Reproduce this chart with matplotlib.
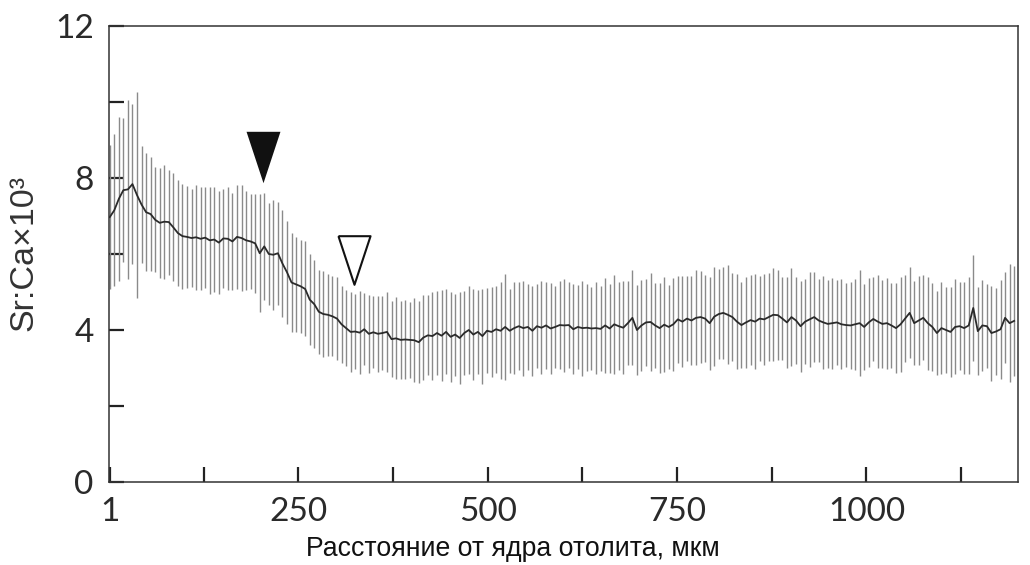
import numpy as np
import matplotlib
matplotlib.use('Agg')
import matplotlib.pyplot as plt

# distance from otolith core, um (sampling step 6 um)
distance = np.arange(1, 1200, 6)

sr_ca_mean = [
    6.97, 7.15, 7.45, 7.68, 7.70, 7.84, 7.55, 7.30, 7.10, 7.05,
    6.90, 6.82, 6.85, 6.84, 6.70, 6.55, 6.47, 6.45, 6.42, 6.44,
    6.40, 6.43, 6.36, 6.38, 6.30, 6.41, 6.40, 6.33, 6.45, 6.42,
    6.36, 6.33, 6.28, 6.02, 6.20, 6.00, 5.98, 6.02, 5.75, 5.52,
    5.25, 5.20, 5.15, 5.08, 4.80, 4.68, 4.48, 4.42, 4.40, 4.36,
    4.30, 4.15, 4.05, 3.95, 3.96, 3.93, 4.02, 3.90, 3.94, 3.90,
    3.92, 3.95, 3.76, 3.78, 3.74, 3.75, 3.74, 3.73, 3.68, 3.80,
    3.86, 3.84, 3.92, 3.85, 3.95, 3.82, 3.88, 3.79, 3.92, 4.00,
    3.88, 3.95, 3.84, 3.98, 3.95, 4.02, 3.98, 4.08, 3.98, 4.05,
    4.10, 4.05, 4.08, 3.98, 4.10, 4.06, 4.12, 4.04, 4.08, 4.13,
    4.12, 4.13, 4.02, 4.08, 4.05, 4.06, 4.04, 4.05, 4.03, 4.12,
    4.04, 4.15, 4.10, 4.06, 4.18, 4.32, 4.00, 4.12, 4.20, 4.21,
    4.12, 4.05, 4.14, 4.08, 4.15, 4.28, 4.22, 4.30, 4.25, 4.32,
    4.34, 4.30, 4.18, 4.35, 4.42, 4.45, 4.40, 4.34, 4.22, 4.13,
    4.20, 4.26, 4.22, 4.30, 4.28, 4.34, 4.40, 4.39, 4.30, 4.20,
    4.34, 4.25, 4.10, 4.22, 4.28, 4.34, 4.25, 4.20, 4.16, 4.18,
    4.20, 4.15, 4.13, 4.12, 4.15, 4.18, 4.08, 4.20, 4.29, 4.22,
    4.16, 4.18, 4.12, 4.05, 4.15, 4.30, 4.45, 4.18, 4.25, 4.32,
    4.18, 4.08, 3.92, 4.05, 4.00, 3.95, 4.08, 4.10, 4.05, 4.12,
    4.58, 3.97, 4.12, 4.10, 3.92, 3.96, 4.02, 4.32, 4.18, 4.24,
]

sr_ca_sd = [
    1.90, 2.00, 2.15, 1.90, 2.35, 2.10, 2.70, 1.55, 1.55, 1.50,
    1.38, 1.45, 1.50, 1.38, 1.42, 1.40, 1.38, 1.35, 1.30, 1.38,
    1.36, 1.32, 1.40, 1.38, 1.35, 1.30, 1.35, 1.28, 1.36, 1.40,
    1.30, 1.25, 1.30, 1.55, 1.40, 1.35, 1.45, 1.35, 1.40, 1.35,
    1.30, 1.25, 1.22, 1.25, 1.20, 1.15, 1.10, 1.12, 1.08, 1.05,
    1.10, 1.02, 1.00, 1.05, 0.98, 1.10, 0.95, 1.02, 0.95, 1.00,
    0.98, 1.05, 1.00, 1.08, 1.02, 1.05, 1.00, 1.10, 1.08, 1.12,
    1.05, 1.15, 1.10, 1.20, 1.12, 1.18, 1.08, 1.22, 1.10, 1.15,
    1.20, 1.10, 1.25, 1.12, 1.18, 1.15, 1.28, 1.40, 1.10, 1.20,
    1.15, 1.25, 1.12, 1.18, 1.10, 1.22, 1.15, 1.20, 1.08, 1.15,
    1.22, 1.12, 1.18, 1.10, 1.25, 1.15, 1.08, 1.20, 1.12, 1.25,
    1.18, 1.30, 1.15, 1.22, 1.10, 1.25, 1.18, 1.20, 1.15, 1.28,
    1.12, 1.18, 1.25, 1.10, 1.22, 1.15, 1.20, 1.12, 1.18, 1.25,
    1.20, 1.15, 1.22, 1.30, 1.18, 1.22, 1.30, 1.15, 1.25, 1.12,
    1.20, 1.18, 1.25, 1.12, 1.20, 1.15, 1.22, 1.18, 1.10, 1.20,
    1.30, 1.15, 1.20, 1.12, 1.25, 1.18, 1.10, 1.22, 1.15, 1.20,
    1.12, 1.18, 1.10, 1.15, 1.20, 1.40, 1.12, 1.18, 1.10, 1.22,
    1.15, 1.20, 1.12, 1.18, 1.25, 1.15, 1.20, 1.10, 1.18, 1.12,
    1.22, 1.15, 1.10, 1.20, 1.12, 1.18, 1.25, 1.15, 1.20, 1.28,
    1.40, 1.15, 1.20, 1.10, 1.25, 1.15, 1.30, 1.20, 1.55, 1.45,
]

x_ticks = [1, 250, 500, 750, 1000]
x_minor = [125, 375, 625, 875, 1125]
y_ticks = [0, 4, 8, 12]
y_minor = [2, 6, 10]

# arrowheads: (distance, Sr:Ca) of the triangle centres
filled_arrow = (204, 8.54)
open_arrow = (324, 5.85)

tri = [(-0.33, 0.5), (0.33, 0.5), (0, -0.5), (-0.33, 0.5)]

fig = plt.figure(figsize=(10.3, 5.65), dpi=100)
ax = fig.add_axes([0.1058, 0.1469, 0.8825, 0.8071])

ax.errorbar(distance, sr_ca_mean, yerr=sr_ca_sd, fmt='none',
            ecolor='#8a8a8a', elinewidth=1.0, capsize=0, zorder=2)
ax.plot(distance, sr_ca_mean, color='#2a2a2a', lw=1.3, zorder=3)

ax.plot(*filled_arrow, marker=tri, markersize=37, color='#111111',
        markeredgewidth=0, zorder=4)
ax.plot(*open_arrow, marker=tri, markersize=35, markerfacecolor='white',
        markeredgecolor='#111111', markeredgewidth=1.5, zorder=4)

ax.set_xlim(0, 1200)
ax.set_ylim(0, 12)
ax.set_xticks(x_ticks)
ax.set_xticks(x_minor, minor=True)
ax.set_yticks(y_ticks)
ax.set_yticks(y_minor, minor=True)

tick_font = dict(family='Lato', size=24, weight='normal', color='#2a2a2a')
ax.set_xticklabels([str(t) for t in x_ticks], fontdict=tick_font)
ax.set_yticklabels([str(t) for t in y_ticks], fontdict=tick_font)

ax.tick_params(which='both', direction='in', length=11, width=1.6,
               color='#222222')
ax.tick_params(axis='x', which='major', pad=11)
ax.tick_params(axis='y', which='major', pad=11)

for s in ax.spines.values():
    s.set_linewidth(1.1)
    s.set_color('#333333')

fig.text(24 / 1030, 1 - 253 / 565, 'Sr:Ca×10³', rotation=90,
         ha='center', va='center', fontsize=24.5,
         family='Liberation Sans', color='#333333')
fig.text(513 / 1030, 1 - 549 / 565, 'Расстояние от ядра отолита, мкм',
         ha='center', va='center', fontsize=19.2,
         family='Liberation Sans', color='#111111')

fig.savefig('out.png', dpi=100)
